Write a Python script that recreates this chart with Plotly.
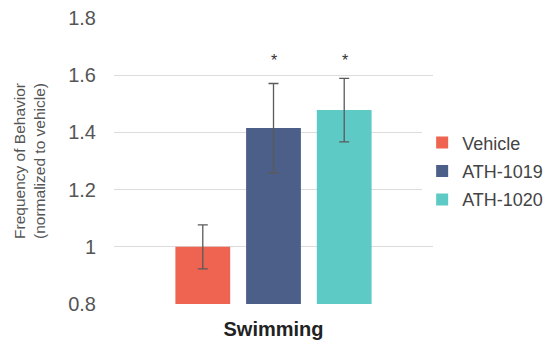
import plotly.graph_objects as go

# Behavior data (normalized to vehicle)
category = ["Swimming"]
groups = ["Vehicle", "ATH-1019", "ATH-1020"]
means = [1.0, 1.415, 1.478]
errors = [0.077, 0.156, 0.111]
colors = ["#EE6450", "#4C5F88", "#5ECAC6"]
significant = [False, True, True]
star_y = 1.665

fig = go.Figure()
for name, m, e, c in zip(groups, means, errors, colors):
    fig.add_trace(go.Bar(
        x=category, y=[m], name=name, legendgroup=name,
        marker=dict(color=c, line=dict(width=0)),
        error_y=dict(type="data", array=[e], visible=True,
                     color="#5a5a5a", thickness=1.3, width=5),
    ))

# significance markers above the treated groups
slot_px = 71
for i, (name, sig) in enumerate(zip(groups, significant)):
    if sig:
        fig.add_annotation(
            x=category[0], y=star_y, text="*", showarrow=False,
            xshift=(i - 1) * slot_px, yshift=-4, yanchor="middle",
            font=dict(family="Arial, Liberation Sans", size=16, color="#333"),
        )

fig.update_layout(
    width=549, height=343,
    margin=dict(l=114, r=116, t=18, b=39, autoexpand=False),
    plot_bgcolor="white", paper_bgcolor="white",
    barmode="group", bargap=0.335, bargroupgap=0.225,
    font=dict(family="Arial, Liberation Sans, sans-serif", color="#555"),
    legend=dict(
        x=0.966, y=0.628, xanchor="left", yanchor="top",
        font=dict(size=18, color="#444"),
        itemwidth=30, tracegroupgap=2,
    ),
    showlegend=True,
)
fig.update_yaxes(
    range=[0.8, 1.8], dtick=0.2, tick0=0.8,
    showgrid=True, gridcolor="#dcdcdc", gridwidth=1,
    zeroline=False, showline=False,
    tickfont=dict(size=20, color="#555"),
    ticklabelstandoff=17,
    title=dict(text="Frequency of Behavior<br>(normalized to vehicle)",
               font=dict(size=15.5, color="#555"), standoff=18),
)
fig.update_xaxes(
    showline=False, showgrid=False,
    tickfont=dict(size=20, color="#222", weight="bold"),
    ticklabelstandoff=11,
)

fig.write_html("out.html")
